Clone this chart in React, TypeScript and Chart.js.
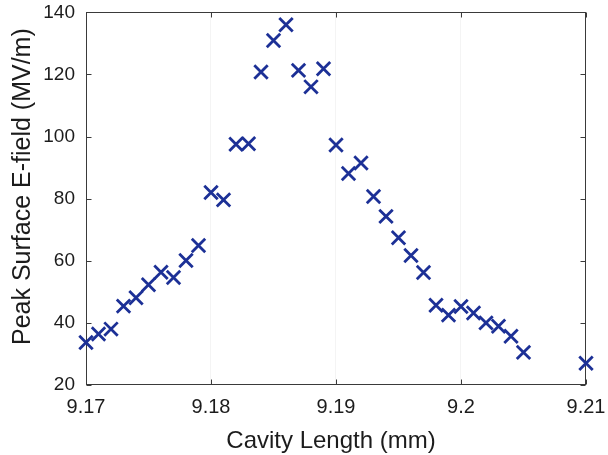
import { useEffect, useRef } from 'react';
import { Chart, registerables } from 'chart.js';

Chart.register(...registerables);

// Peak surface E-field vs. cavity length
const cavityLength = [
  9.17, 9.171, 9.172, 9.173, 9.174, 9.175, 9.176, 9.177, 9.178, 9.179,
  9.18, 9.181, 9.182, 9.183, 9.184, 9.185, 9.186, 9.187, 9.188, 9.189,
  9.19, 9.191, 9.192, 9.193, 9.194, 9.195, 9.196, 9.197, 9.198, 9.199,
  9.2, 9.201, 9.202, 9.203, 9.204, 9.205, 9.21,
];
const peakField = [
  33.7, 36.4, 38, 45.4, 48.1, 52.3, 56.3, 54.6, 60.1, 64.9,
  82, 79.6, 97.5, 97.7, 120.8, 130.9, 136, 121.3, 116, 121.8,
  97.3, 88.1, 91.5, 80.7, 74.3, 67.4, 61.7, 56.2, 45.7, 42.5,
  45.3, 43.2, 40, 38.9, 35.7, 30.5, 27,
];

const xTicks = [9.17, 9.18, 9.19, 9.2, 9.21];
const yTicks = [20, 40, 60, 80, 100, 120, 140];

const xTitle = 'Cavity Length (mm)';
const yTitle = 'Peak Surface E-field (MV/m)';

const FONT = '"Liberation Sans", Arial, Helvetica, sans-serif';
const INK = '#1c1c1c';
const MARKER = 'rgb(28, 48, 150)';

// Box around the axes with inward tick marks on all four sides, plus axis titles
const framePlugin = {
  id: 'frame',
  beforeDatasetsDraw(chart: any) {
    const { ctx, chartArea: a, scales } = chart;
    const L = Math.round(a.left) + 0.5;
    const R = Math.round(a.right) - 0.5;
    const T = Math.round(a.top) + 0.5;
    const B = Math.round(a.bottom) - 0.5;
    const len = 5;
    ctx.save();
    ctx.strokeStyle = '#3a3a3a';
    ctx.lineWidth = 1;
    ctx.strokeRect(L, T, R - L, B - T);
    ctx.beginPath();
    for (const v of xTicks) {
      const px = Math.round(scales.x.getPixelForValue(v)) + 0.5;
      ctx.moveTo(px, B);
      ctx.lineTo(px, B - len);
      ctx.moveTo(px, T);
      ctx.lineTo(px, T + len);
    }
    for (const v of yTicks) {
      const py = Math.round(scales.y.getPixelForValue(v)) + 0.5;
      ctx.moveTo(L, py);
      ctx.lineTo(L + len, py);
      ctx.moveTo(R, py);
      ctx.lineTo(R - len, py);
    }
    ctx.stroke();
    ctx.restore();
  },
  afterDraw(chart: any) {
    const { ctx, chartArea: a } = chart;
    ctx.save();
    ctx.fillStyle = INK;
    ctx.font = `24px ${FONT}`;
    ctx.textAlign = 'center';
    ctx.textBaseline = 'alphabetic';
    ctx.fillText(xTitle, (a.left + a.right) / 2 - 5, 448);
    ctx.font = `25px ${FONT}`;
    ctx.translate(30, (a.top + a.bottom) / 2 - 12);
    ctx.rotate(-Math.PI / 2);
    ctx.fillText(yTitle, 0, 0);
    ctx.restore();
  },
};

export default function App() {
  const canvasRef = useRef<HTMLCanvasElement | null>(null);

  useEffect(() => {
    const canvas = canvasRef.current;
    if (!canvas) return;
    const points = cavityLength.map((x, i) => ({ x, y: peakField[i] }));
    const chart = new Chart(canvas, {
      type: 'scatter',
      data: {
        datasets: [
          {
            data: points,
            pointStyle: 'crossRot',
            pointRadius: 9.5,
            pointHoverRadius: 9.5,
            borderColor: MARKER,
            backgroundColor: MARKER,
            pointBorderWidth: 2.8,
            clip: false,
          } as any,
        ],
      },
      options: {
        responsive: false,
        animation: false,
        events: [],
        layout: { padding: { left: 0, top: 11, right: 22, bottom: 0 } },
        plugins: {
          legend: { display: false },
          tooltip: { enabled: false },
          title: { display: false },
        },
        scales: {
          x: {
            type: 'linear',
            min: 9.17,
            max: 9.21,
            afterBuildTicks: (scale: any) => {
              scale.ticks = xTicks.map((value) => ({ value }));
            },
            afterFit: (scale: any) => {
              scale.height = 70;
              scale.paddingLeft = 0;
              scale.paddingRight = 0;
            },
            border: { display: false },
            grid: {
              display: true,
              drawTicks: false,
              color: (c: any) =>
                c.tick && (c.tick.value === 9.17 || c.tick.value === 9.21)
                  ? 'rgba(0,0,0,0)'
                  : 'rgba(0,0,0,0.045)',
              lineWidth: 1,
            },
            ticks: {
              padding: 10,
              maxRotation: 0,
              autoSkip: false,
              color: INK,
              font: { family: FONT, size: 20 },
              callback: (v: any) => String(Number(Number(v).toFixed(2))),
            },
          },
          y: {
            type: 'linear',
            min: 20,
            max: 140,
            afterBuildTicks: (scale: any) => {
              scale.ticks = yTicks.map((value) => ({ value }));
            },
            afterFit: (scale: any) => {
              scale.width = 86;
              scale.paddingTop = 0;
              scale.paddingBottom = 0;
            },
            border: { display: false },
            grid: { display: false, drawTicks: false },
            ticks: {
              padding: 11,
              autoSkip: false,
              color: INK,
              font: { family: FONT, size: 19 },
              callback: (v: any) => String(v),
            },
          },
        },
      },
      plugins: [framePlugin],
    });
    return () => chart.destroy();
  }, []);

  return (
    <div style={{ position: 'fixed', left: 0, top: 0, width: 608, height: 455, background: '#fff' }}>
      <canvas ref={canvasRef} width={608} height={455} style={{ display: 'block' }} />
    </div>
  );
}
